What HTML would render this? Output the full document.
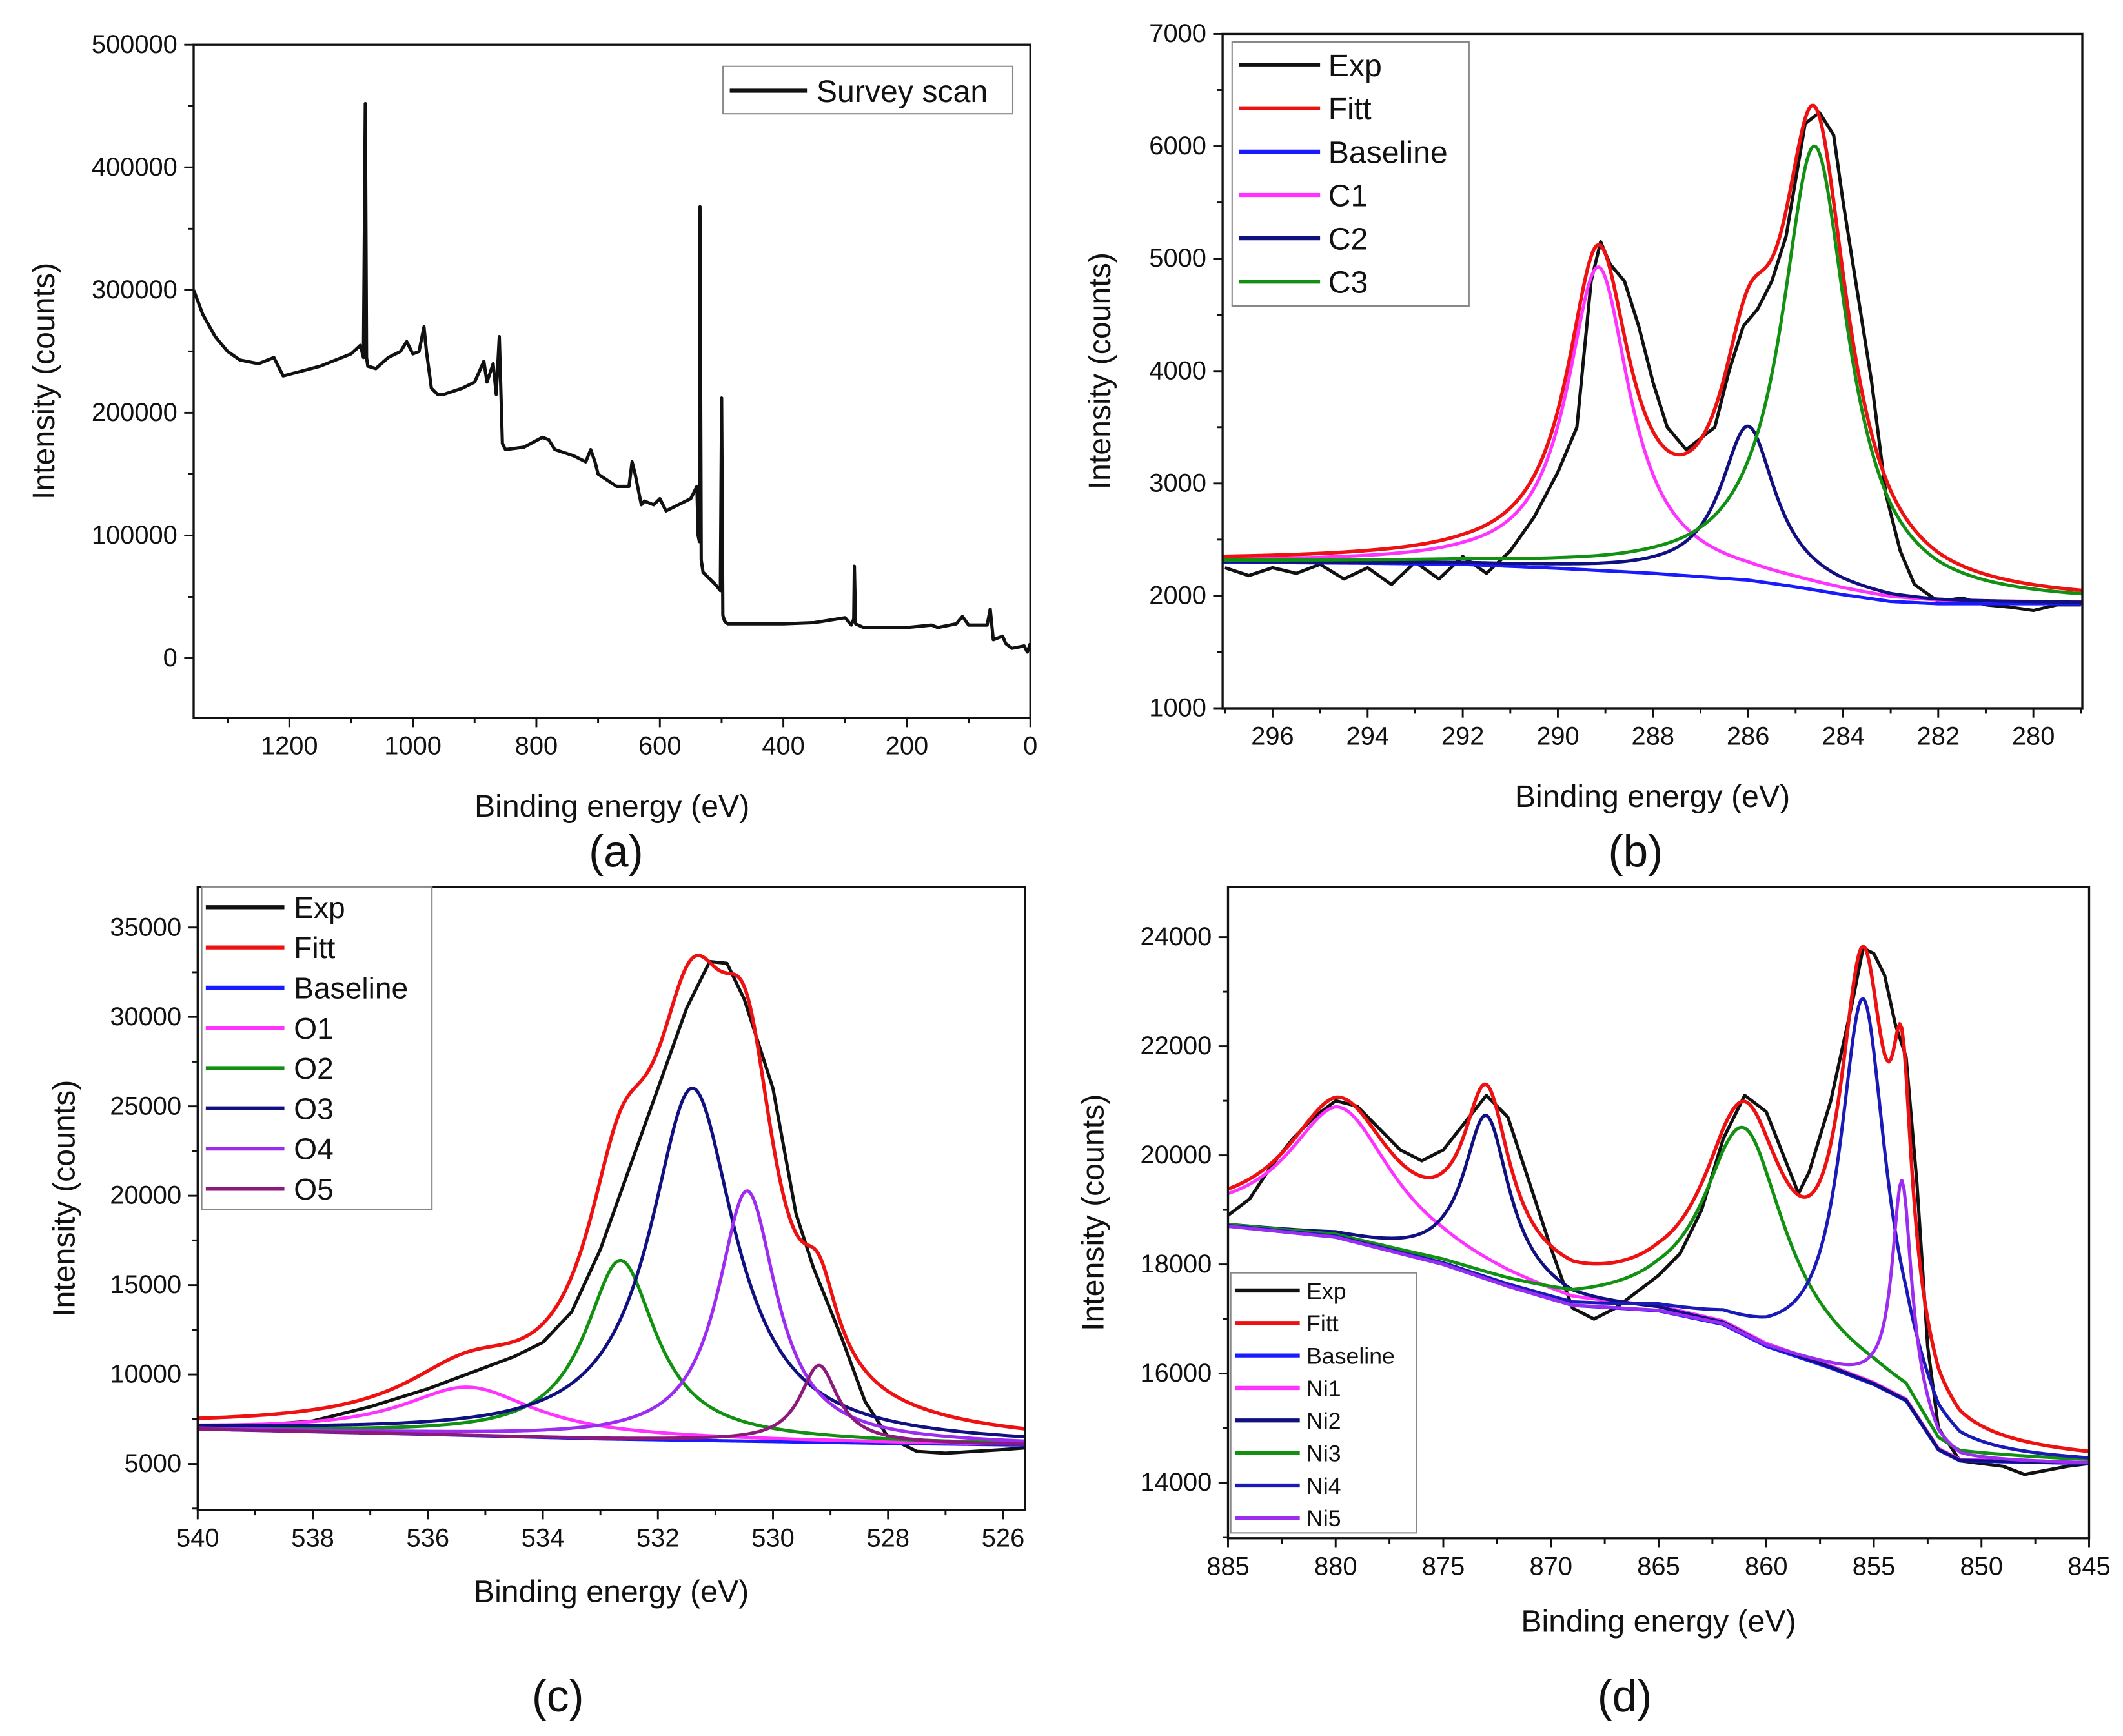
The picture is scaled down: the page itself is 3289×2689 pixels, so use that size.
<!DOCTYPE html>
<html><head><meta charset="utf-8"><style>
html,body{margin:0;padding:0;background:#fff}
svg{display:block}
text{font-family:"Liberation Sans",Arial,sans-serif;fill:#111}
</style></head><body>
<svg id="fig" width="3289" height="2689" viewBox="0 0 1568 1282" xmlns="http://www.w3.org/2000/svg"></svg>
<script>
// ---------- DATA ----------
const surveyE=[1355,1340,1320,1300,1280,1250,1225,1210,1150,1100,1085,1080,1077,1075,1073,1060,1040,1020,1010,1000,990,982,978,970,960,950,920,900,885,880,870,865,860,855,850,820,790,780,770,740,720,712,705,700,670,650,645,640,630,625,610,600,590,570,550,540,538,536,535,533,530,520,510,502,500,498,495,490,450,400,350,300,290,286,285,283,270,200,160,150,120,110,100,70,65,60,45,40,30,10,5,0];
const surveyI=[300000,280000,262000,250000,243000,240000,245000,230000,238000,248000,255000,245000,452000,245000,238000,236000,245000,250000,258000,248000,250000,270000,250000,220000,215000,215000,220000,225000,242000,225000,240000,215000,262000,175000,170000,172000,180000,178000,170000,165000,160000,170000,160000,150000,140000,140000,160000,150000,125000,128000,125000,130000,120000,125000,130000,140000,100000,95000,368000,80000,70000,65000,60000,55000,212000,35000,30000,28000,28000,28000,29000,33000,27000,32000,75000,28000,25000,25000,27000,25000,28000,34000,27000,27000,40000,15000,18000,12000,8000,10000,5000,12000];

const cExpE=[297,296.5,296,295.5,295,294.5,294,293.5,293,292.5,292,291.5,291,290.5,290,289.6,289.3,289.1,288.9,288.6,288.3,288,287.7,287.3,287,286.7,286.4,286.1,285.8,285.5,285.2,285,284.8,284.5,284.2,284,283.7,283.4,283.1,282.8,282.5,282,281.5,281,280.5,280,279.5,279];
const cExpI=[2250,2180,2250,2200,2280,2150,2250,2100,2300,2150,2350,2200,2400,2700,3100,3500,4800,5150,4950,4800,4400,3900,3500,3300,3400,3500,4000,4400,4550,4800,5200,5700,6200,6300,6100,5500,4700,3900,2900,2400,2100,1950,1980,1920,1900,1870,1920,1920];
const cBaseE=[297,294,292,290,288,286,285,284,283,282,279];
const cBaseI=[2300,2290,2280,2245,2200,2140,2080,2010,1950,1930,1930];
const cCenters=[289.15,286.0,284.6];
const cHeights=[2700,1370,3950];
const cWidths=[0.8,0.7,0.85];

const oExpE=[540,539,538,537,536,535,534.5,534,533.5,533,532.5,532,531.5,531.1,530.8,530.5,530,529.6,529.3,528.8,528.4,528,527.5,527,526.5,526,525.6];
const oExpI=[7000,7150,7400,8200,9200,10400,11000,11800,13500,17000,21500,26000,30500,33100,33000,31000,26000,19000,16000,12000,8500,6500,5700,5600,5700,5800,5900];
const oBaseE=[540,536,533,530,528,525.6];
const oBaseI=[6950,6650,6400,6250,6150,6050];
const oCenters=[535.3,532.65,531.4,530.45,529.2];
const oHeights=[2700,10000,19700,14000,4300];
const oWidths=[1.4,0.75,0.9,0.62,0.4];

const nExpE=[885,884,883,882,881,880,879,878,877,876,875,874,873,872,871,870,869,868,867,866,865,864,863,862,861,860,859,858.5,858,857,856,855.5,855,854.5,854,853.5,853,852.5,852,851,849,848,846,845];
const nExpI=[18900,19200,19800,20300,20700,21000,20900,20500,20100,19900,20100,20600,21100,20700,19500,18300,17200,17000,17200,17500,17800,18200,19000,20300,21100,20800,19800,19300,19700,21000,22800,23800,23700,23300,22400,21800,19500,16500,15000,14400,14300,14150,14300,14350];
const nBaseE=[885,880,875,872,869,865,862,860,857,855,853.5,852,851,845];
const nBaseI=[18700,18500,18000,17600,17250,17150,16900,16500,16100,15800,15500,14600,14400,14350];
const nCenters=[879.8,873,861,855.5,853.7];
const nHeights=[2400,3000,3800,7000,4000];
const nWidths=[3,1.3,2.3,1.3,0.55];

// ---------- HELPERS ----------
const NS="http://www.w3.org/2000/svg";
const svg=document.getElementById('fig');
function mk(tag,attrs,parent){const e=document.createElementNS(NS,tag);for(const k in attrs)e.setAttribute(k,attrs[k]);(parent||svg).appendChild(e);return e;}
function interp(xs,ys,x){
  if(x>=xs[0])return ys[0]; if(x<=xs[xs.length-1])return ys[ys.length-1];
  for(let i=0;i<xs.length-1;i++){if(x<=xs[i]&&x>=xs[i+1]){const t=(xs[i]-x)/(xs[i]-xs[i+1]);return ys[i]+t*(ys[i+1]-ys[i]);}}
  return ys[0];
}
function lor(x,c,h,g){return h/(1+((x-c)/g)*((x-c)/g));}

function panel(p){
  const g=mk('g',{});
  
  
  const X=v=>p.x0+(p.xd[0]-v)/(p.xd[0]-p.xd[1])*(p.x1-p.x0);
  const Y=v=>p.y1-(v-p.yd[0])/(p.yd[1]-p.yd[0])*(p.y1-p.y0);
  const cid='clip-'+p.name;
  const cp=mk('clipPath',{id:cid},g);mk('rect',{x:p.x0,y:p.y0,width:p.x1-p.x0,height:p.y1-p.y0},cp);
  const plot=mk('g',{'clip-path':'url(#'+cid+')'},g);
  function line(xs,ys,color,name,w){
    let d='';for(let i=0;i<xs.length;i++)d+=(i?'L':'M')+X(xs[i]).toFixed(2)+' '+Y(ys[i]).toFixed(2);
    const e=mk('path',{d:d,fill:'none',stroke:color,'stroke-width':w||2.4,'stroke-linejoin':'round'},plot);
    
    
  }
  line(p.expE,p.expI,'#111',p.name+'-exp-line',2.4);
  if(p.baseE){
    const N=400,xs=[];for(let i=0;i<=N;i++)xs.push(p.xd[0]-(p.xd[0]-p.xd[1])*i/N);
    const base=xs.map(x=>interp(p.baseE,p.baseI,x));
    line(xs,base,'#1a1aff',p.name+'-baseline',2.4);
    p.centers.forEach((c,k)=>{
      line(xs,xs.map((x,i)=>base[i]+lor(x,c,p.heights[k],p.widths[k])),p.colors[k],p.name+'-component-'+(k+1),2.4);
    });
    const fit=xs.map((x,i)=>{let s=base[i];p.centers.forEach((c,k)=>s+=lor(x,c,p.heights[k],p.widths[k]));return s;});
    line(xs,fit,'#ee1111',p.name+'-fit-line',2.6);
  }
  const fr=mk('rect',{x:p.x0,y:p.y0,width:p.x1-p.x0,height:p.y1-p.y0,fill:'none',stroke:'#111','stroke-width':1.6},g);
  
  
  const xt=mk('g',{},g);
  
  
  for(let v=p.xminor[0];v>=p.xminor[1]-1e-9;v-=p.xminor[2]){
    const px=X(v);if(px<p.x0-0.5||px>p.x1+0.5)continue;
    const major=Math.abs(((p.xt0-v)/p.xstep)-Math.round((p.xt0-v)/p.xstep))<1e-6 && v<=p.xt0+1e-9;
    mk('line',{x1:px,x2:px,y1:p.y1,y2:p.y1+(major?7:4),stroke:'#111','stroke-width':1.4},xt);
    if(major){const t=mk('text',{x:px,y:p.y1+27,'font-size':19,'text-anchor':'middle'},xt);t.textContent=String(v);}
  }
  const yt=mk('g',{},g);
  
  
  for(let v=p.yminor[0];v<=p.yminor[1]+1e-9;v+=p.yminor[2]){
    const py=Y(v);if(py<p.y0-0.5||py>p.y1+0.5)continue;
    const major=Math.abs(((v-p.yt0)/p.ystep)-Math.round((v-p.yt0)/p.ystep))<1e-6 && v>=p.yt0-1e-9;
    mk('line',{x1:p.x0,x2:p.x0-(major?7:4),y1:py,y2:py,stroke:'#111','stroke-width':1.4},yt);
    if(major){const t=mk('text',{x:p.x0-12,y:py+6,'font-size':19,'text-anchor':'end'},yt);t.textContent=String(v);}
  }
  const xl=mk('text',{x:(p.x0+p.x1)/2,y:p.xly,'font-size':23,'text-anchor':'middle'},g);xl.textContent='Binding energy (eV)';
  
  const yl=mk('text',{x:0,y:0,'font-size':23,'text-anchor':'middle',transform:'translate('+p.ylx+','+((p.y0+p.y1)/2)+') rotate(-90)'},g);yl.textContent='Intensity (counts)';
  
  const pl=mk('text',{x:p.lab[0],y:p.lab[1],'font-size':33,'text-anchor':'middle'},g);pl.textContent=p.label;
  
  const L=p.legend;const lg=mk('g',{},g);
  
  
  mk('rect',{x:L.x,y:L.y,width:L.w,height:L.h,fill:'#fff',stroke:'#888','stroke-width':1},lg);
  L.names.forEach((n,i)=>{
    const yy=L.y+L.first+i*L.dy;
    const ent=mk('g',{},lg);
    
    
    mk('line',{x1:L.x+L.lx0,x2:L.x+L.lx1,y1:yy,y2:yy,stroke:L.colors[i],'stroke-width':3},ent);
    const t=mk('text',{x:L.x+L.tx,y:yy+L.fs*0.36,'font-size':L.fs},ent);t.textContent=n;
  });
}

const cA='#ff33ff',cNavy='#101080',cGreen='#129012',cPurp='#9b2cf0',cPlum='#8b1a7b',cBl='#1a1ab8';

panel({name:'survey',x0:143,x1:761,y0:33,y1:530,xd:[1355,0],yd:[-48500,500000],
  xt0:1200,xstep:200,xminor:[1300,0,100],yt0:0,ystep:100000,yminor:[-50000,500000,50000],
  expE:surveyE,expI:surveyI,xly:603,ylx:40,lab:[455,640],label:'(a)',
  legend:{x:534,y:49,w:214,h:35,first:18,dy:30,lx0:5,lx1:62,tx:69,fs:23,names:['Survey scan'],colors:['#111']}});

panel({name:'carbon',x0:903,x1:1538,y0:25,y1:523,xd:[297.05,278.97],yd:[1000,7000],
  xt0:296,xstep:2,xminor:[297,279,1],yt0:1000,ystep:1000,yminor:[1000,7000,500],
  expE:cExpE,expI:cExpI,baseE:cBaseE,baseI:cBaseI,centers:cCenters,heights:cHeights,widths:cWidths,colors:[cA,cNavy,cGreen],
  xly:596,ylx:820,lab:[1208,640],label:'(b)',
  legend:{x:910,y:31,w:175,h:195,first:17,dy:32,lx0:5,lx1:65,tx:71,fs:23,names:['Exp','Fitt','Baseline','C1','C2','C3'],colors:['#111','#ee1111','#1a1aff',cA,cNavy,cGreen]}});

panel({name:'oxygen',x0:146,x1:757,y0:655,y1:1115,xd:[540,525.62],yd:[2430,37270],
  xt0:540,xstep:2,xminor:[540,525.62,1],yt0:5000,ystep:5000,yminor:[2500,37500,2500],
  expE:oExpE,expI:oExpI,baseE:oBaseE,baseI:oBaseI,centers:oCenters,heights:oHeights,widths:oWidths,colors:[cA,cGreen,cNavy,cPurp,cPlum],
  xly:1183,ylx:55,lab:[412,1264],label:'(c)',
  legend:{x:149,y:655,w:170,h:238,first:15,dy:29.7,lx0:3,lx1:61,tx:68,fs:22,names:['Exp','Fitt','Baseline','O1','O2','O3','O4','O5'],colors:['#111','#ee1111','#1a1aff',cA,cGreen,cNavy,cPurp,cPlum]}});

panel({name:'nickel',x0:907,x1:1543,y0:655,y1:1136,xd:[885,845],yd:[12980,24920],
  xt0:885,xstep:5,xminor:[885,845,2.5],yt0:14000,ystep:2000,yminor:[13000,25000,1000],
  expE:nExpE,expI:nExpI,baseE:nBaseE,baseI:nBaseI,centers:nCenters,heights:nHeights,widths:nWidths,colors:[cA,cNavy,cGreen,cBl,cPurp],
  xly:1205,ylx:815,lab:[1200,1264],label:'(d)',
  legend:{x:909,y:940,w:137,h:192,first:13,dy:24,lx0:3,lx1:51,tx:56,fs:17,names:['Exp','Fitt','Baseline','Ni1','Ni2','Ni3','Ni4','Ni5'],colors:['#111','#ee1111','#1a1aff',cA,cNavy,cGreen,cBl,cPurp]}});
</script>
</body></html>
